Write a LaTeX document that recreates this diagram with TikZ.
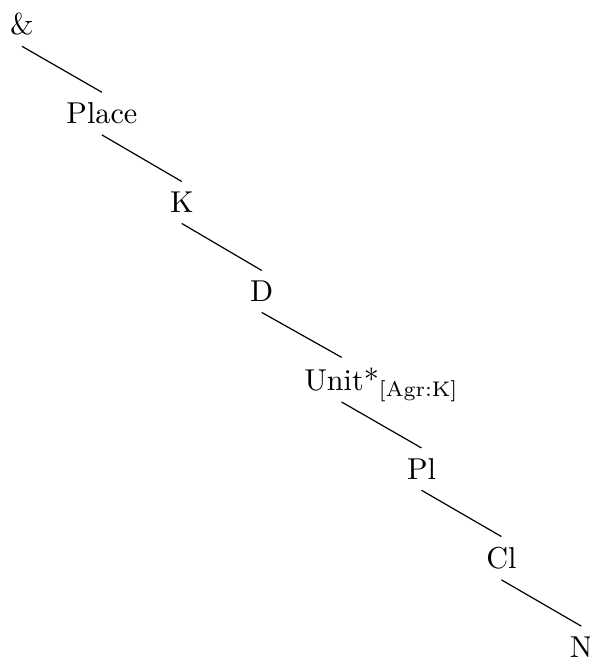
\documentclass[tikz,border=0pt]{standalone}
\usepackage{mathtools}
\usepackage{tikz}

\begin{document}
\begin{tikzpicture}[every node/.style={anchor=base}]
\useasboundingbox (-0.256,0.407) rectangle (6.60,-7.275);
\node (amp) at (0,0) {\&};
\node (place) at (0.93,-1.035) {Place};
\node (k) at (1.86,-2.07) {K};
\node (d) at (2.79,-3.105) {D};
\node (unit) at (3.72,-4.14) {Unit*\rlap{\smash{\textsubscript{[Agr:K]}}}};
\node (pl) at (4.65,-5.175) {Pl};
\node (cl) at (5.58,-6.21) {Cl};
\node (n) at (6.51,-7.245) {N};
\draw (amp.south) -- (place.north);
\draw (place.south) -- (k.north);
\draw (k.south) -- (d.north);
\draw (d.south) -- (unit.north);
\draw (unit.south) -- (pl.north);
\draw (pl.south) -- (cl.north);
\draw (cl.south) -- (n.north);
\end{tikzpicture}
\end{document}
